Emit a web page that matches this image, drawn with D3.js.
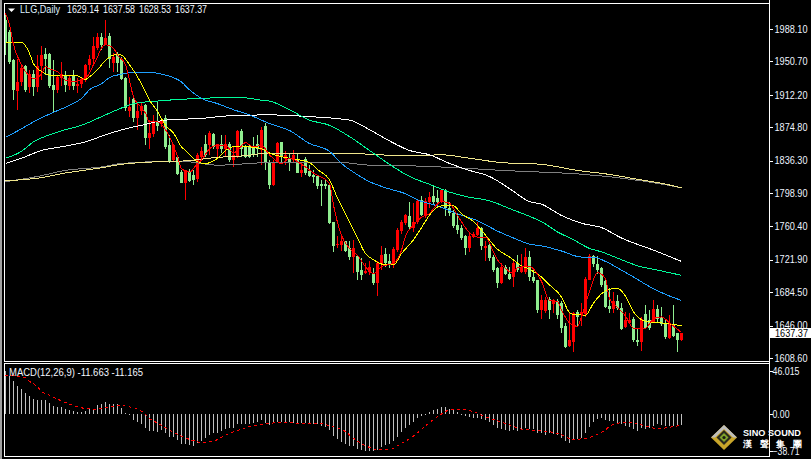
<!DOCTYPE html>
<html><head><meta charset="utf-8">
<script src="https://cdn.jsdelivr.net/npm/d3@7/dist/d3.min.js"></script>
<style>html,body{margin:0;padding:0;background:#000;overflow:hidden}svg{display:block}text{font-family:"Liberation Sans",Arial,sans-serif}</style>
</head><body><div id="c"></div>
<script>
const symbol="LLG,Daily";
const ohlcLabels=["1629.14","1637.58","1628.53","1637.37"];
const macdLabel="MACD(12,26,9) -11.663 -11.165";
const priceTicks=[1988.10,1950.70,1912.20,1874.80,1836.30,1798.90,1760.40,1721.90,1684.50,1646.00,1608.60];
const macdTicks=[46.015,0.00,-38.71];
const lastPrice=1637.37;
const logoName="SINO SOUND";
const logoChars=["漢","聲","集","團"];
const opens=[1998,1985,1952,1917,1927,1945,1921,1936,1921,1945,
1959,1959,1923,1918,1932,1935,1922,1934,1922,1925,
1931,1946,1954,1966,1979,1971,1980,1949,1958,1953,
1932,1893,1907,1885,1894,1900,1862,1867,1882,1878,
1885,1854,1837,1841,1823,1811,1823,1820,1815,1840,
1855,1854,1867,1850,1855,1850,1856,1837,1841,1870,
1852,1852,1852,1856,1848,1876,1835,1808,1834,1858,
1838,1839,1837,1838,1822,1838,1824,1820,1818,1809,
1809,1808,1766,1739,1739,1743,1735,1725,1726,1710,
1707,1708,1706,1695,1717,1729,1720,1717,1733,1755,
1764,1772,1759,1765,1791,1772,1789,1795,1793,1789,
1802,1782,1776,1762,1759,1749,1735,1748,1750,1758,
1736,1739,1725,1712,1695,1713,1706,1702,1718,1708,
1708,1725,1702,1698,1664,1663,1677,1671,1674,1672,
1645,1622,1627,1662,1658,1659,1699,1726,1717,1712,
1697,1669,1665,1674,1666,1644,1649,1654,1629,1627,
1659,1652,1650,1665,1656,1649,1632,1647,1637,1629.14];
const closes=[1972,1950,1918,1927,1943,1918,1936,1921,1945,1958,
1954,1922,1918,1933,1936,1923,1932,1922,1925,1931,
1947,1954,1968,1979,1970,1978,1954,1956,1949,1931,
1897,1898,1885,1894,1899,1862,1868,1880,1876,1882,
1852,1836,1854,1821,1811,1825,1813,1814,1843,1847,
1843,1868,1852,1855,1850,1855,1837,1843,1870,1850,
1841,1841,1844,1850,1872,1833,1808,1833,1857,1841,
1843,1833,1843,1822,1826,1822,1818,1817,1807,1807,
1807,1764,1738,1740,1743,1732,1725,1735,1708,1704,
1709,1713,1695,1718,1727,1718,1716,1734,1756,1766,
1773,1760,1766,1790,1773,1790,1794,1789,1788,1802,
1782,1776,1761,1756,1747,1735,1749,1752,1758,1738,
1738,1724,1710,1695,1713,1706,1700,1718,1710,1714,
1725,1702,1697,1664,1675,1675,1664,1675,1658,1643,
1621,1629,1660,1656,1662,1700,1726,1717,1710,1693,
1668,1665,1674,1666,1642,1652,1652,1629,1627,1654,
1643,1643,1665,1654,1648,1633,1648,1634,1629,1637.37];
const highs=[2004,1987,1954,1954,1945,1947,1941,1941,1958,1968,
1966,1960,1952,1935,1950,1940,1935,1941,1932,1933,
1948,1958,1979,1983,1983,1998,1983,1960,1962,1956,
1933,1910,1908,1904,1904,1902,1883,1889,1904,1885,
1889,1866,1855,1843,1825,1825,1827,1825,1845,1852,
1866,1870,1868,1856,1866,1866,1858,1852,1872,1873,
1854,1856,1864,1866,1875,1880,1837,1837,1858,1858,
1847,1845,1848,1845,1833,1841,1831,1825,1820,1814,
1814,1811,1766,1749,1752,1744,1743,1745,1727,1724,
1718,1720,1712,1720,1738,1735,1729,1737,1758,1768,
1775,1789,1787,1791,1795,1793,1800,1807,1802,1804,
1804,1789,1779,1775,1762,1750,1754,1754,1766,1760,
1744,1741,1727,1714,1718,1716,1714,1720,1727,1729,
1735,1732,1710,1699,1681,1679,1679,1677,1677,1674,
1649,1660,1662,1664,1672,1702,1729,1727,1726,1714,
1699,1689,1685,1681,1672,1662,1660,1656,1643,1656,
1670,1664,1675,1670,1667,1654,1658,1670,1638,1637.58];
const lows=[1958,1948,1906,1895,1922,1916,1914,1911,1916,1929,
1935,1920,1891,1914,1922,1916,1918,1918,1914,1920,
1927,1941,1947,1964,1964,1970,1943,1939,1939,1929,
1893,1887,1881,1872,1889,1854,1850,1864,1870,1875,
1850,1833,1836,1820,1810,1791,1812,1808,1812,1837,
1841,1843,1850,1841,1845,1841,1835,1829,1839,1841,
1839,1839,1841,1841,1831,1825,1804,1807,1833,1835,
1831,1824,1833,1822,1817,1820,1817,1811,1803,1784,
1803,1763,1731,1735,1732,1731,1722,1707,1698,1699,
1706,1704,1693,1680,1710,1714,1712,1712,1731,1752,
1762,1756,1754,1763,1772,1770,1782,1785,1782,1787,
1772,1772,1759,1752,1745,1727,1731,1747,1749,1733,
1720,1721,1708,1689,1694,1704,1699,1691,1708,1707,
1706,1697,1695,1660,1654,1660,1654,1660,1654,1637,
1620,1621,1615,1645,1645,1656,1698,1714,1706,1691,
1666,1661,1660,1664,1641,1643,1648,1627,1622,1617,
1642,1641,1649,1649,1645,1631,1631,1633,1616,1628.53];
const macdHist=[45.8,40.8,35.2,30.3,26.8,22.9,19.4,16.2,15.1,15.1,
15.1,11.6,8.8,7.7,7.7,5.6,4.6,3.5,2.8,2.8,
3.9,5.6,6.3,9.9,10.9,13,10.9,10.9,10.6,7,
1.1,0.4,-6,-7.7,-10.2,-14.8,-17.6,-17.6,-18.3,-16.5,
-20,-23.6,-24.3,-27.1,-31.3,-31.3,-32.4,-33.1,-30.6,-28.2,
-25.3,-21.8,-20,-20,-17.6,-15.5,-14.8,-14.1,-10.6,-10.6,
-10.6,-10.6,-8.8,-7.7,-6,-8.8,-11.3,-9.5,-8.4,-8.4,
-8.4,-8.4,-8.8,-8.8,-9.5,-9.5,-10.2,-10.2,-10.2,-12,
-13,-16.5,-22.9,-26,-29.6,-31.7,-33.1,-33.1,-36.6,-37.7,
-38.7,-38.7,-38.7,-37.7,-34.8,-32.4,-31.3,-28.2,-23.6,-18.3,
-14.1,-11.3,-7.7,-4.2,-1.8,-0.7,2.5,4.6,5.6,7.7,
7.7,6.3,4.6,2.1,-0.4,-1.8,-2.8,-3.9,-3.9,-4.9,
-6,-8.4,-11.3,-14.1,-15.5,-16.5,-17.6,-16.9,-17.6,-16.2,
-14.8,-15.5,-15.5,-19.4,-20,-21.8,-20,-21,-21.8,-24.6,
-28.2,-29.9,-27.1,-26,-24.6,-19.4,-13.4,-7.7,-4.9,-4.2,
-6,-7,-7,-8.8,-10.6,-12,-13,-15.5,-17.6,-14.8,
-15.5,-14.1,-12.3,-10.6,-11.3,-12,-12.3,-12.3,-12.3,-11.663];
const signalAt=[0,5,6,8,9,11,14,15,18,20,23,25,29,31,34,36,39,41,44,47,49,52,55,59,62,66,69,75,78,81,85,87,90,93,96,99,102,105,108,111,114,117,120,125,129,133,138,142,146,149,152,155,158,163,169];
const signalVal=[41.5,38.7,35.2,29.2,24.6,20.4,14.4,12.7,8.1,6.3,5.6,7.4,9.2,8.1,3.5,-4.2,-11.3,-16.5,-22.9,-27.8,-29.6,-28.2,-21.8,-15.5,-12,-9.5,-8.4,-9.5,-9.5,-12,-18.3,-25.3,-33.1,-37,-37,-30.6,-22.9,-12,-2.5,4.6,5.3,2.8,-2.5,-9.5,-15.5,-17.2,-20,-26.4,-24.3,-19,-10.6,-8.4,-10.2,-14.8,-11.165];
const redAt=[0,1,2,4,7,9,10,11,13,15,17,19,20,22,23,24,25,27,28,30,32,34,35,36,38,40,41,43,44,46,48,49,51,53,55,57,58,60,62,64,66,69,71,74,77,81,82,84,86,88,90,92,94,97,99,100,102,104,106,107,109,111,113,116,118,120,122,123,125,127,128,131,134,136,138,139,141,143,144,146,148,150,151,153,155,157,160,162,164,166,169];
const redVal=[2006,1993,1970,1947,1931,1936,1945,1942,1939,1929,1927,1930,1931,1947,1956,1966,1970,1966,1958,1947,1910,1897,1891,1881,1881,1872,1864,1841,1827,1823,1833,1837,1850,1854,1854,1845,1848,1857,1852,1854,1843,1833,1839,1832,1822,1810,1785,1750,1735,1727,1714,1706,1714,1718,1733,1749,1762,1771,1775,1781,1789,1787,1773,1753,1748,1748,1731,1722,1712,1706,1713,1714,1697,1675,1674,1664,1649,1645,1656,1685,1707,1700,1677,1667,1657,1643,1643,1654,1656,1649,1638];
const yellowAt=[0,4,6,7,9,11,18,20,21,23,25,28,29,31,34,36,38,40,42,44,45,48,50,53,55,58,64,66,71,76,78,81,83,85,88,90,92,94,97,99,102,104,107,109,112,114,117,119,123,126,129,131,134,136,139,141,142,145,147,150,153,155,157,160,164,169];
const yellowVal=[1973,1973,1960,1948,1939,1935,1934,1930,1933,1941,1952,1959,1958,1947,1925,1906,1893,1877,1868,1852,1848,1835,1833,1839,1848,1853,1850,1845,1839,1834,1826,1814,1793,1775,1747,1729,1722,1717,1716,1729,1745,1759,1779,1784,1784,1775,1766,1756,1734,1725,1715,1711,1702,1693,1679,1661,1659,1658,1672,1686,1689,1680,1662,1651,1649,1646];
const blueAt=[0,4,7,12,16,19,21,24,26,29,32,36,40,44,46,49,53,57,61,66,71,76,81,84,88,91,95,100,103,108,113,118,123,127,131,134,139,144,147,150,154,157,161,165,169];
const blueVal=[1863,1873,1881,1892,1900,1908,1918,1925,1932,1936,1938,1938,1935,1927,1918,1908,1902,1895,1889,1879,1871,1856,1847,1833,1820,1812,1805,1798,1791,1784,1775,1767,1755,1747,1740,1738,1732,1725,1725,1720,1710,1702,1691,1682,1675];
const greenAt=[0,4,7,11,15,19,24,28,32,38,44,49,54,59,64,66,71,76,81,86,91,96,101,106,111,116,121,126,131,134,138,142,146,149,154,158,163,169];
const greenVal=[1839,1847,1858,1866,1872,1877,1887,1895,1902,1905,1907,1908,1909,1909,1906,1905,1895,1883,1877,1864,1848,1832,1818,1809,1800,1794,1790,1781,1772,1766,1754,1745,1735,1731,1722,1715,1710,1704];
const whiteAt=[0,4,9,15,20,25,30,35,40,49,56,66,76,86,91,96,101,106,111,116,121,126,131,134,139,144,149,154,162,169];
const whiteVal=[1833,1839,1848,1853,1858,1866,1873,1878,1883,1885,1888,1889,1887,1883,1872,1859,1848,1843,1833,1825,1818,1804,1789,1786,1773,1764,1759,1747,1733,1720];
const goldAt=[0,8,15,24,29,38,45,53,60,66,85,93,103,109,116,124,134,143,150,159,163,169];
const goldVal=[1813,1816,1822,1828,1832,1835,1836,1840,1842,1845,1845,1843,1842,1843,1839,1834,1832,1825,1821,1814,1811,1805];
const grayAt=[0,8,15,24,29,38,45,53,66,84,91,103,113,124,134,143,159,169];
const grayVal=[1812,1818,1825,1829,1833,1835,1835,1831,1834,1834,1831,1830,1828,1825,1823,1821,1813,1805];

const W=811,H=459;
const svg=d3.select("#c").append("svg").attr("width",W).attr("height",H);
svg.append("rect").attr("width",W).attr("height",H).attr("fill","#000");
const x=d3.scaleLinear().domain([0,169]).range([5.5,681.5]);
const y=d3.scaleLinear().domain([1608.6,1988.1]).range([358,29]);
const ym=d3.scaleLinear().domain([-38.71,46.015]).range([451,371]);
const px=i=>Math.floor(x(i));

svg.append("defs").append("clipPath").attr("id","cm").append("rect").attr("x",5).attr("y",5).attr("width",764).attr("height",356);
const gm=svg.append("g").attr("clip-path","url(#cm)").attr("shape-rendering","crispEdges");
const idx=d3.range(opens.length);
const RED="#ff0000",GRN="#90ee90";
gm.selectAll("rect.w").data(idx).join("rect").attr("class","w")
 .attr("x",i=>px(i)).attr("width",1)
 .attr("y",i=>y(highs[i])).attr("height",i=>Math.max(1,y(lows[i])-y(highs[i])))
 .attr("fill",i=>closes[i]>=opens[i]?RED:GRN);
gm.selectAll("rect.b").data(idx).join("rect").attr("class","b")
 .attr("x",i=>px(i)-1).attr("width",3)
 .attr("y",i=>y(Math.max(opens[i],closes[i]))).attr("height",i=>Math.max(1,Math.abs(y(opens[i])-y(closes[i]))))
 .attr("fill",i=>closes[i]>=opens[i]?RED:GRN);
const drawLine=(g,at,val,col,sy,dash)=>{
  const l=d3.line().x((d,k)=>x(at[k])).y(d=>sy(d)).curve(d3.curveMonotoneX);
  const p=g.append("path").datum(val).attr("d",l).attr("fill","none").attr("stroke",col).attr("stroke-width",1);
  if(dash)p.attr("stroke-dasharray",dash);
};
drawLine(gm,grayAt,grayVal,"#808080",y);
drawLine(gm,goldAt,goldVal,"#f0e68c",y);
drawLine(gm,whiteAt,whiteVal,"#ffffff",y);
drawLine(gm,greenAt,greenVal,"#00fa9a",y);
drawLine(gm,blueAt,blueVal,"#1e9fff",y);
drawLine(gm,yellowAt,yellowVal,"#ffff00",y);
drawLine(gm,redAt,redVal,"#ff0000",y);

const gh=svg.append("g").attr("shape-rendering","crispEdges");
gh.selectAll("rect").data(idx).join("rect")
 .attr("x",i=>px(i)).attr("width",1)
 .attr("y",i=>Math.min(ym(0),ym(macdHist[i]))).attr("height",i=>Math.max(1,Math.abs(ym(macdHist[i])-ym(0))))
 .attr("fill","#c0c0c0");
drawLine(gh,signalAt,signalVal,"#ff0000",ym,"3 3");

// frames
const frame=svg.append("g").attr("fill","#fff").attr("shape-rendering","crispEdges");
frame.append("rect").attr("x",0).attr("y",0).attr("width",2).attr("height",H).attr("fill","#a0a0a0");
frame.append("rect").attr("x",4).attr("y",3).attr("width",1).attr("height",359);
frame.append("rect").attr("x",4).attr("y",3).attr("width",766).attr("height",1);
frame.append("rect").attr("x",4).attr("y",361).attr("width",766).attr("height",1);
frame.append("rect").attr("x",4).attr("y",363).attr("width",766).attr("height",1);
frame.append("rect").attr("x",4).attr("y",363).attr("width",1).attr("height",93);
frame.append("rect").attr("x",4).attr("y",456).attr("width",766).attr("height",1);

const fmt=d3.format(".2f");
const label=(sel,w)=>sel.attr("textLength",w).attr("lengthAdjust","spacingAndGlyphs");
const ax=d3.axisRight(y).tickValues(priceTicks).tickSize(3).tickPadding(2).tickFormat(fmt);
const ga=svg.append("g").attr("transform","translate(769.5,0)").call(ax);
const axm=d3.axisRight(ym).tickValues(macdTicks).tickSize(3).tickPadding(0).tickFormat(d=>d===46.015?"46.015":fmt(d));
const gb=svg.append("g").attr("transform","translate(769.5,0)").call(axm);
[ga,gb].forEach(g=>{g.selectAll(".domain").remove();g.selectAll("line").attr("stroke","#fff").attr("shape-rendering","crispEdges");
 g.selectAll("text").attr("fill","#eef4ff").attr("font-size","10px").attr("font-family","Liberation Sans,Arial,sans-serif");});
label(ga.selectAll("text"),33);
gb.selectAll("text").each(function(d){label(d3.select(this),d===0?17:27);});
svg.append("rect").attr("x",769).attr("y",0).attr("width",1).attr("height",H-2).attr("fill","#fff").attr("shape-rendering","crispEdges");
// last price tag
svg.append("rect").attr("x",770).attr("y",y(lastPrice)-5).attr("width",41).attr("height",10).attr("fill","#fff").attr("shape-rendering","crispEdges");
label(svg.append("text").attr("x",775).attr("y",y(lastPrice)+3.5).attr("fill","#000").attr("font-size","10px").text(fmt(lastPrice)),33);

// header
svg.append("path").attr("d","M8 8.5H15L11.5 12Z").attr("fill","#fff");
label(svg.append("text").attr("x",20).attr("y",13).attr("fill","#dff0ff").attr("font-size","10px").text(symbol),40);
ohlcLabels.forEach((t,k)=>label(svg.append("text").attr("x",67+36*k).attr("y",13).attr("fill","#f4f8ff").attr("font-size","10px").text(t),32));
label(svg.append("text").attr("x",9).attr("y",376).attr("fill","#f4f8ff").attr("font-size","10px").text(macdLabel),134);

// logo
const lg=svg.append("g");
lg.append("path").attr("d","M724 425L737 437.5L724 450L711 437.5Z").attr("fill","#c9a62a");
lg.append("path").attr("d","M724 425L737 437.5L733 437.5L724 429L715 437.5L711 437.5Z").attr("fill","#bdbdbd");
lg.append("path").attr("d","M724 430L731.5 437.5L724 445L716.5 437.5Z").attr("fill","#2a2a1c");
lg.append("path").attr("d","M724 433L728.5 437.5L724 442L719.5 437.5Z").attr("fill","#7fa32a");
lg.append("circle").attr("cx",724).attr("cy",437.5).attr("r",1.6).attr("fill","#1a1a10");
label(svg.append("text").attr("x",743).attr("y",436).attr("fill","#fff").attr("font-weight","bold").attr("font-size","9.5px").text(logoName),58);
logoChars.forEach((c,k)=>svg.append("text").attr("x",743+16.7*k).attr("y",447).attr("fill","#fff").attr("font-weight","bold").attr("font-size","8.5px").attr("font-family","Noto Sans CJK TC").text(c));
</script></body></html>
